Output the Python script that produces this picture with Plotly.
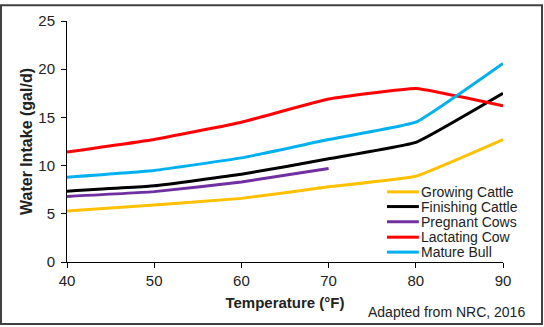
import plotly.graph_objects as go

temps = [40, 50, 60, 70, 80, 90]
growing = [5.3, 5.9, 6.6, 7.8, 8.9, 12.7]
finishing = [7.35, 7.9, 9.1, 10.7, 12.4, 17.5]
pregnant_t = [40, 50, 60, 70]
pregnant = [6.8, 7.3, 8.3, 9.7]
lactating = [11.4, 12.7, 14.5, 16.9, 18.0, 16.2]
bull = [8.8, 9.5, 10.8, 12.7, 14.5, 20.6]

names = ["Growing Cattle", "Finishing Cattle", "Pregnant Cows", "Lactating Cow", "Mature Bull"]
colors = ["#FFC000", "#000000", "#7030A0", "#FF0000", "#00B0F0"]
xs = [temps, temps, pregnant_t, temps, temps]
ys = [growing, finishing, pregnant, lactating, bull]

fig = go.Figure()
for n, c, x, y in zip(names, colors, xs, ys):
    fig.add_trace(go.Scatter(x=x, y=y, name=n, mode="lines",
                             line=dict(color=c, width=3, shape="spline", smoothing=0.3),
                             showlegend=False))

L, R, T, B = 67, 41, 17, 65
W, H = 544, 327
pw, ph = W - L - R, H - T - B

# manual legend (compact spacing like the original)
leg_y = [0.291, 0.230, 0.167, 0.103, 0.041]
shapes = []
annotations = []
for n, c, yy in zip(names, colors, leg_y):
    shapes.append(dict(type="line", xref="paper", yref="paper", x0=0.734, x1=0.807,
                       y0=yy, y1=yy, line=dict(color=c, width=3)))
    annotations.append(dict(text=n, xref="paper", yref="paper", x=0.807, y=yy,
                            xanchor="left", yanchor="middle", showarrow=False,
                            font=dict(size=14, color="#222")))

annotations.append(dict(text="Adapted from NRC, 2016", xref="paper", yref="paper",
                        x=(527 - L) / pw, y=-(313 - 262) / ph, xanchor="right", yanchor="middle",
                        showarrow=False, font=dict(size=14, color="#222")))

# outer frame
shapes.append(dict(type="rect", xref="paper", yref="paper",
                   x0=-(L - 1) / pw, x1=1 + (R - 2) / pw, y0=-(B - 2) / ph, y1=1 + (T - 1) / ph,
                   line=dict(color="#404040", width=2)))

fig.update_layout(
    width=W, height=H,
    margin=dict(l=L, r=R, t=T, b=B),
    plot_bgcolor="white", paper_bgcolor="white",
    font=dict(family="Liberation Sans, Arial, sans-serif", size=14, color="#222"),
    xaxis=dict(range=[40, 90], tickvals=[40, 50, 60, 70, 80, 90], showgrid=False, zeroline=False,
               showline=True, linecolor="#000", linewidth=1, ticks="outside", ticklen=5,
               tickcolor="#000", tickfont=dict(size=15),
               title=dict(text="<b>Temperature (°F)</b>", font=dict(size=15), standoff=9)),
    yaxis=dict(range=[0, 25], tickvals=[0, 5, 10, 15, 20, 25], showgrid=False, zeroline=False,
               showline=True, linecolor="#000", linewidth=1, ticks="outside", ticklen=5,
               tickcolor="#000", tickfont=dict(size=15), ticklabelstandoff=3,
               title=dict(text="<b>Water Intake (gal/d)</b>", font=dict(size=16), standoff=1)),
    shapes=shapes, annotations=annotations,
)

fig.write_html("out.html", config={"displayModeBar": False},
               post_script="document.body.style.margin='0';document.body.style.overflow='hidden';")
